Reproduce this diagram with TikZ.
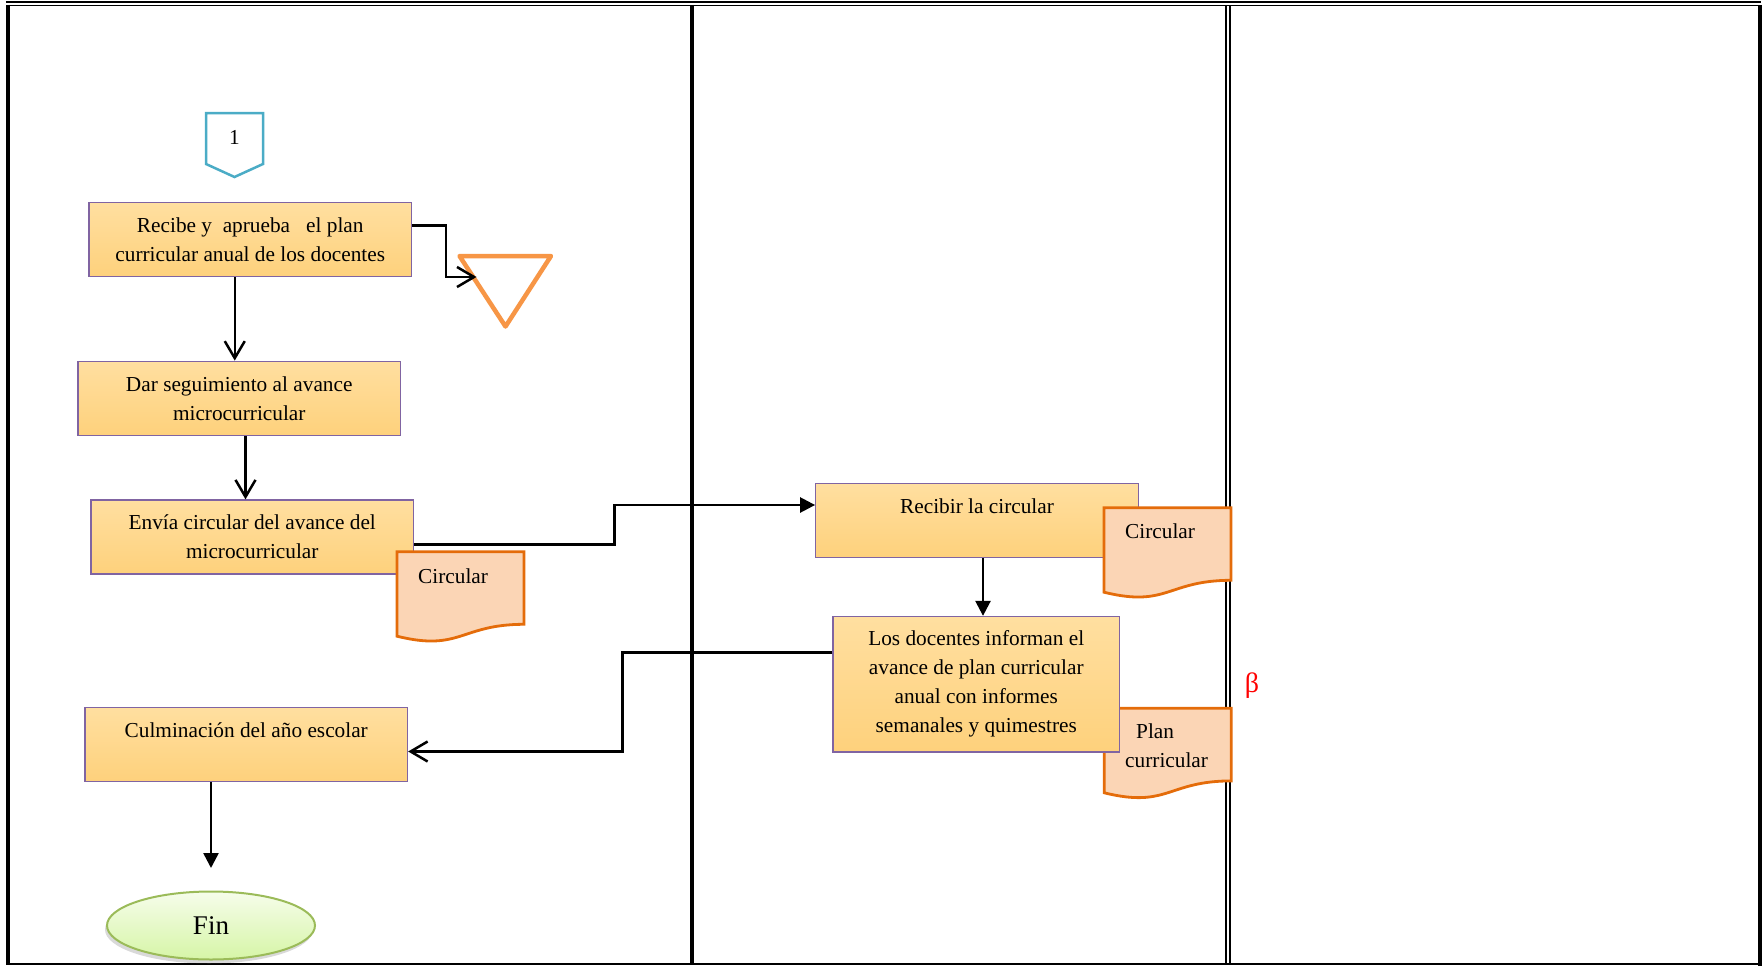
\documentclass[tikz,border=0pt]{standalone}
\usepackage{fontspec}
\setmainfont{Liberation Serif}
\usetikzlibrary{arrows.meta,shapes.geometric,shadows,calc}
\definecolor{boxtop}{RGB}{255,223,160}
\definecolor{boxbot}{RGB}{254,209,124}
\definecolor{boxline}{RGB}{128,100,162}
\definecolor{docfill}{RGB}{251,213,181}
\definecolor{docline}{RGB}{228,108,10}
\definecolor{triline}{RGB}{247,150,70}
\definecolor{conline}{RGB}{75,172,198}
\definecolor{fintop}{RGB}{246,253,234}
\definecolor{finbot}{RGB}{214,245,166}
\definecolor{finline}{RGB}{155,187,89}
\tikzset{
  docshape/.style={fill=docfill, draw=docline, line width=2.8pt, line join=miter},
  docpic/.pic={\path[docshape] (0,0) -- (127,0) -- (127,72.6) .. controls (63.5,72.6) and (63.5,100.2) .. (0,84.5) -- cycle;}
}
\begin{document}
\begin{tikzpicture}[x=1pt,y=-1pt,
  every node/.style={font=\fontsize{21.3}{29}\selectfont, inner sep=0pt},
  procbox/.style={draw=boxline, line width=1.3pt, top color=boxtop, bottom color=boxbot, minimum width=322.5pt, minimum height=74pt, align=center},
  conn/.style={line width=2.5pt, draw=black},
  openarrow/.style={conn, -{Straight Barb[length=17pt,width=20pt]}},
  fillarrow/.style={conn, -{Triangle[length=15pt,width=15pt]}}
]
\useasboundingbox (0,0) rectangle (1763,966);

% frame of the table
\draw[line width=2pt] (6,2) -- (1761,2);
\draw[line width=1.3pt] (10,5.6) -- (1758,5.6);
\draw[line width=4pt] (8,5) -- (8,965);
\draw[line width=4pt] (1759.7,5) -- (1759.7,966);
\draw[line width=2.6pt] (6,964) -- (1762,964);
\draw[line width=4pt] (692,5) -- (692,963);
\draw[line width=1.8pt] (1226.3,5.5) -- (1226.3,963);
\draw[line width=1.8pt] (1229.7,5.5) -- (1229.7,963);

% off-page connector
\draw[draw=conline, line width=2.5pt, fill=white, line join=miter] (206,113) -- (263,113) -- (263,164) -- (234.5,177) -- (206,164) -- cycle;
\node (one) at (234.5,137) {1};

% storage triangle
\draw[draw=triline, line width=4.5pt, fill=white, line join=round] (459.5,256) -- (551,256) -- (505.5,326.5) -- cycle;

% process boxes
\node[procbox] (A) at (250.25,239.5) {Recibe y\ \ aprueba\ \ \ el plan\\curricular anual de los docentes};
\node[procbox] (B) at (239.25,398.25) {Dar seguimiento al avance\\microcurricular};
\node[procbox] (C) at (252.25,537) {Envía circular del avance del\\microcurricular};
\pic at (397,551.7) {docpic};
\node[anchor=west] (doc1) at (418,576) {Circular};

\node[procbox] (D) at (977,520.25) {Recibir la circular\\\mbox{}};
\pic at (1104,507.7) {docpic};
\node[anchor=west] (doc2) at (1125,531.7) {Circular};

\pic at (1104.3,708.3) {docpic};
\node[anchor=west, align=left] (doc3) at (1125,745.9) {\hspace*{11pt}Plan\\curricular};
\node[procbox, minimum width=286.5pt, minimum height=135.5pt] (E) at (976.25,684.25) {Los docentes informan el\\avance de plan curricular\\anual con informes\\semanales y quimestres};

\node[procbox] (F) at (246.25,744.25) {Culminación del año escolar\\\mbox{}};

\node[text=red, font=\fontsize{28}{32}\selectfont] (beta) at (1252,686) {β};

\node[ellipse, draw=finline, line width=2pt, top color=fintop, bottom color=finbot,
      minimum width=208pt, minimum height=68pt,
      drop shadow={opacity=0.3, shadow xshift=-2pt, shadow yshift=-4pt},
      font=\fontsize{27}{32}\selectfont] (fin) at (211,925.5) {Fin};

% connectors
\coordinate (Tin) at (476.5,277);
\draw[openarrow] ([yshift=13.8pt]A.east) -| ([xshift=-30.5pt]Tin) -- (Tin);
\draw[openarrow] ([xshift=-15.5pt]A.south) -- ([xshift=-15.5pt]A.south |- B.north);
\draw[openarrow] ([xshift=6.25pt]B.south) -- ([xshift=6.25pt]B.south |- C.north);
\coordinate (cd) at (614.5,505);
\draw[fillarrow] ([yshift=-7.3pt]C.east) -| (cd) -- (cd -| D.west);
\draw[fillarrow] ([xshift=6pt]D.south) -- ([xshift=6pt]D.south |- E.north);
\coordinate (ef) at (622.5,751.5);
\draw[openarrow] ([yshift=32pt]E.west) -| (ef) -- (ef -| F.east);
\coordinate (finin) at (211,868);
\draw[fillarrow] (F.south -| finin) -- (finin);
\end{tikzpicture}
\end{document}
